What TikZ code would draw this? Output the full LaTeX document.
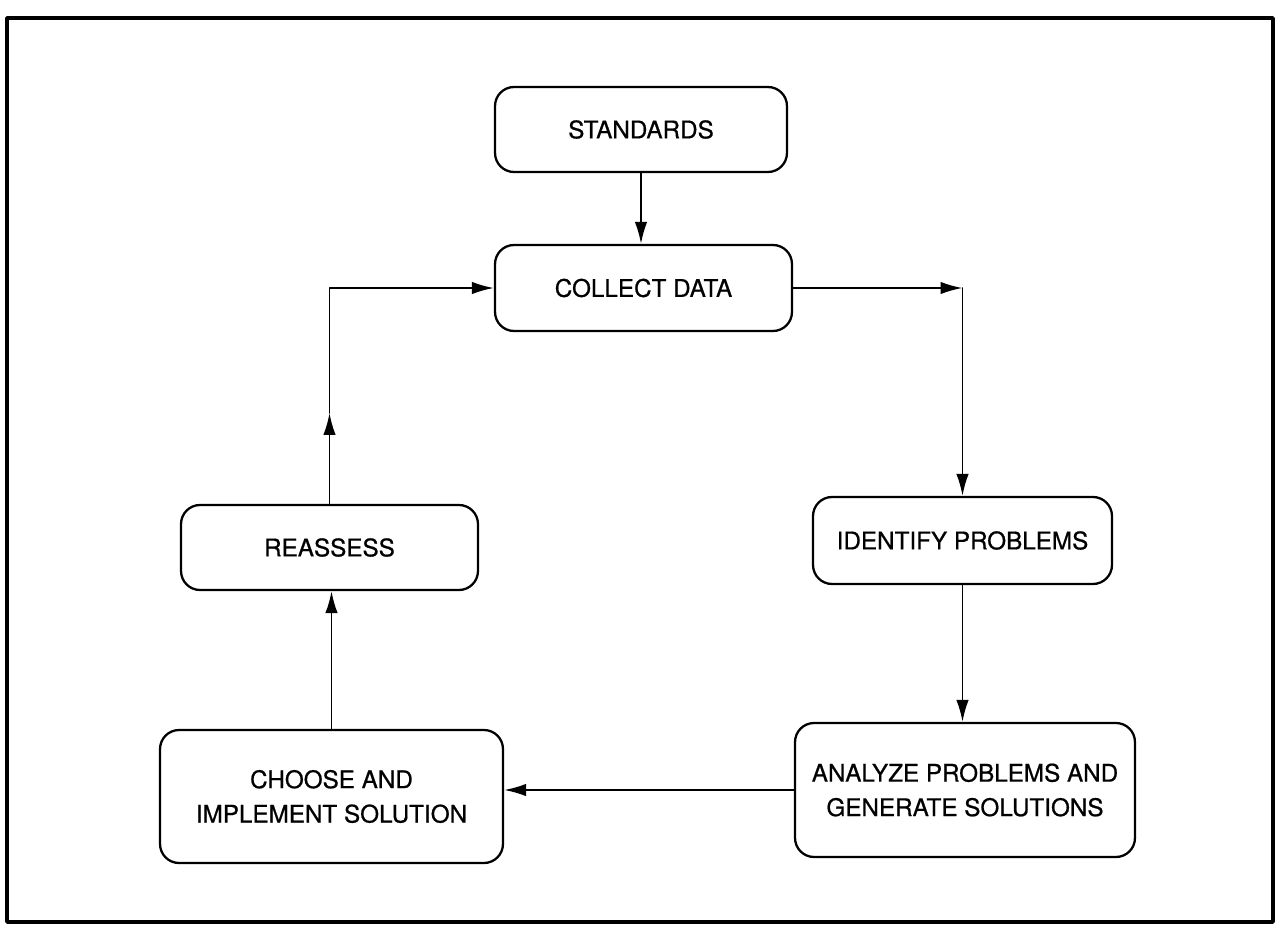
\documentclass[tikz,border=0pt]{standalone}
\usepackage{fontspec}
\setmainfont{TeX Gyre Heros}
\newfontfamily\stagefont{TeX Gyre Heros}[FakeBold=0.7]
\usetikzlibrary{arrows.meta}
\begin{document}
\begin{tikzpicture}[x=0.02cm, y=-0.02cm, >={Latex[length=4.4mm,width=2.5mm]},
	font=\stagefont\fontsize{13.8}{19.6}\selectfont, line join=round, line cap=round,
	stage/.style={draw, line width=1.3pt, rounded corners=0.38cm, align=center, inner sep=0pt},
	link/.style={line width=1.1pt}]
	\useasboundingbox (0,0) rectangle (1282,933);
	\draw[line width=2pt] (7,18) rectangle (1273,922);
	% stages of the cycle
	\node[stage, minimum width=5.84cm, minimum height=1.70cm] (std) at (641,129.5) {STANDARDS};
	\node[stage, minimum width=5.94cm, minimum height=1.72cm] (col) at (643.5,288) {COLLECT DATA};
	\node[stage, minimum width=5.98cm, minimum height=1.74cm] (idf) at (962.5,540.5) {IDENTIFY PROBLEMS};
	\node[stage, minimum width=6.80cm, minimum height=2.68cm] (ana) at (965,790) {ANALYZE PROBLEMS AND\\GENERATE SOLUTIONS};
	\node[stage, minimum width=6.86cm, minimum height=2.66cm] (cho) at (331.5,796.5) {CHOOSE AND\\IMPLEMENT SOLUTION};
	\node[stage, minimum width=5.94cm, minimum height=1.70cm] (rea) at (329.5,547.5) {REASSESS};
	% connectors
	\coordinate (cr) at (col.east -| idf.north);
	\coordinate (cl) at (rea.north |- col.west);
	\coordinate (cm) at (329.5,413);
	\draw[link,->] (std.south) -- (std.south |- col.north);
	\draw[link,->] (col.east) -- (cr);
	\draw[link,->] (cr) -- (idf.north);
	\draw[link,->] (idf.south) -- (idf.south |- ana.north);
	\draw[link,->] (ana.west) -- (ana.west -| cho.east);
	\draw[link,->] (cho.north) -- (cho.north |- rea.south);
	\draw[link,->] (rea.north) -- (cm);
	\draw[link,->] (cm) -- (cl) -- (col.west);
\end{tikzpicture}
\end{document}
